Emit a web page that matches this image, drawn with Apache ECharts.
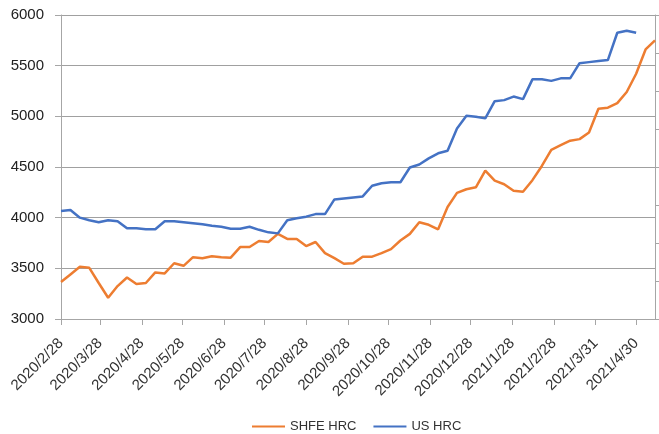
<!DOCTYPE html>
<html>
<head>
<meta charset="utf-8">
<script src="https://cdn.jsdelivr.net/npm/echarts@6/dist/echarts.min.js"></script>
<style>
  html, body { margin: 0; padding: 0; background: #fff; }
  #chart { width: 659px; height: 434px; }
</style>
</head>
<body>
<div id="chart"></div>
<script>
// weekly observation dates
const weekDates = [
  '2020/2/28', '2020/3/6', '2020/3/13', '2020/3/20', '2020/3/27',
  '2020/4/3', '2020/4/10', '2020/4/17', '2020/4/24',
  '2020/5/1', '2020/5/8', '2020/5/15', '2020/5/22', '2020/5/29',
  '2020/6/5', '2020/6/12', '2020/6/19', '2020/6/26',
  '2020/7/3', '2020/7/10', '2020/7/17', '2020/7/24', '2020/7/31',
  '2020/8/7', '2020/8/14', '2020/8/21', '2020/8/28',
  '2020/9/4', '2020/9/11', '2020/9/18', '2020/9/25',
  '2020/10/2', '2020/10/9', '2020/10/16', '2020/10/23', '2020/10/30',
  '2020/11/6', '2020/11/13', '2020/11/20', '2020/11/27',
  '2020/12/4', '2020/12/11', '2020/12/18', '2020/12/25',
  '2021/1/1', '2021/1/8', '2021/1/15', '2021/1/22', '2021/1/29',
  '2021/2/5', '2021/2/12', '2021/2/19', '2021/2/26',
  '2021/3/5', '2021/3/12', '2021/3/19', '2021/3/26',
  '2021/4/2', '2021/4/9', '2021/4/16', '2021/4/23', '2021/4/30',
  '2021/5/7', '2021/5/14'
];

const shfeHrc = [
  3365, 3440, 3515, 3505, 3355, 3210, 3325, 3410, 3345, 3355,
  3460, 3450, 3550, 3525, 3610, 3600, 3620, 3610, 3605, 3710,
  3710, 3770, 3760, 3840, 3790, 3790, 3720, 3760, 3650, 3600,
  3545, 3550, 3615, 3615, 3650, 3690, 3775, 3840, 3955, 3930,
  3885, 4105, 4245, 4280, 4300, 4465, 4365, 4330, 4265, 4255,
  4370, 4510, 4670, 4715, 4760, 4775, 4840, 5075, 5085, 5130,
  5240, 5420, 5660, 5750
];

const usHrc = [
  4065, 4075, 4000, 3975, 3955, 3975, 3965, 3895, 3895, 3885,
  3885, 3965, 3965, 3955, 3945, 3935, 3920, 3910, 3890, 3890,
  3910, 3880, 3855, 3845, 3975, 3995, 4010, 4035, 4035, 4180,
  4190, 4200, 4210, 4315, 4340, 4350, 4350, 4495, 4525, 4585,
  4635, 4660, 4880, 5005, 4995, 4980, 5150, 5160, 5195, 5170,
  5365, 5365, 5350, 5375, 5375, 5525, 5535, 5545, 5555, 5825,
  5845, 5825
];

const tickLabels = [
  '2020/2/28', '2020/3/28', '2020/4/28', '2020/5/28', '2020/6/28',
  '2020/7/28', '2020/8/28', '2020/9/28', '2020/10/28', '2020/11/28',
  '2020/12/28', '2021/1/28', '2021/2/28', '2021/3/31', '2021/4/30'
];

const yTicks = [3000, 3500, 4000, 4500, 5000, 5500, 6000];

function toTs(s) {
  const p = s.split('/').map(Number);
  return Date.UTC(p[0], p[1] - 1, p[2]);
}

const tickTs = tickLabels.map(toTs);
const labelByTs = {};
tickLabels.forEach((s, i) => { labelByTs[tickTs[i]] = s; });

const shfeData = shfeHrc.map((v, i) => [toTs(weekDates[i]), v]);
const usData = usHrc.map((v, i) => [toTs(weekDates[i]), v]);

const chart = echarts.init(document.getElementById('chart'));
const font = 'Liberation Sans, Arial, sans-serif';
const axisGray = '#a6a6a6';

chart.setOption({
  animation: false,
  textStyle: { fontFamily: font },
  grid: { left: 61, right: 4, top: 15, bottom: 115 },
  legend: {
    top: 415,
    left: 247,
    icon: 'rect',
    itemWidth: 33,
    itemHeight: 2,
    itemGap: 17,
    textStyle: { fontSize: 13, color: '#333', fontFamily: font },
    data: ['SHFE HRC', 'US HRC']
  },
  xAxis: {
    type: 'value',
    min: toTs(weekDates[0]),
    max: toTs(weekDates[weekDates.length - 1]),
    splitLine: { show: false },
    axisLine: { show: true, lineStyle: { color: axisGray, width: 1 } },
    axisTick: { show: true, length: 6, customValues: tickTs, lineStyle: { color: axisGray } },
    axisLabel: {
      customValues: tickTs,
      rotate: 45,
      margin: 22,
      fontSize: 15,
      color: '#333',
      formatter: v => labelByTs[v] || ''
    }
  },
  yAxis: [{
    type: 'value',
    min: yTicks[0],
    max: yTicks[yTicks.length - 1],
    interval: 500,
    axisLine: { show: true, lineStyle: { color: axisGray } },
    axisTick: { show: true, length: 6, lineStyle: { color: axisGray } },
    axisLabel: { fontSize: 15, color: '#222', margin: 17, formatter: v => String(v) },
    splitLine: { show: true, lineStyle: { color: '#a0a0a0', width: 1 } }
  }, {
    type: 'value',
    position: 'right',
    min: 0,
    max: 8,
    interval: 1,
    axisLine: { show: true, lineStyle: { color: axisGray } },
    axisTick: { show: true, length: 5, lineStyle: { color: axisGray } },
    axisLabel: { show: false },
    splitLine: { show: false }
  }],
  series: [{
    name: 'SHFE HRC',
    type: 'line',
    data: shfeData,
    symbol: 'none',
    lineStyle: { color: '#ED7D31', width: 2.5 },
    itemStyle: { color: '#ED7D31' }
  }, {
    name: 'US HRC',
    type: 'line',
    data: usData,
    symbol: 'none',
    lineStyle: { color: '#4472C4', width: 2.5 },
    itemStyle: { color: '#4472C4' }
  }]
});
</script>
</body>
</html>
